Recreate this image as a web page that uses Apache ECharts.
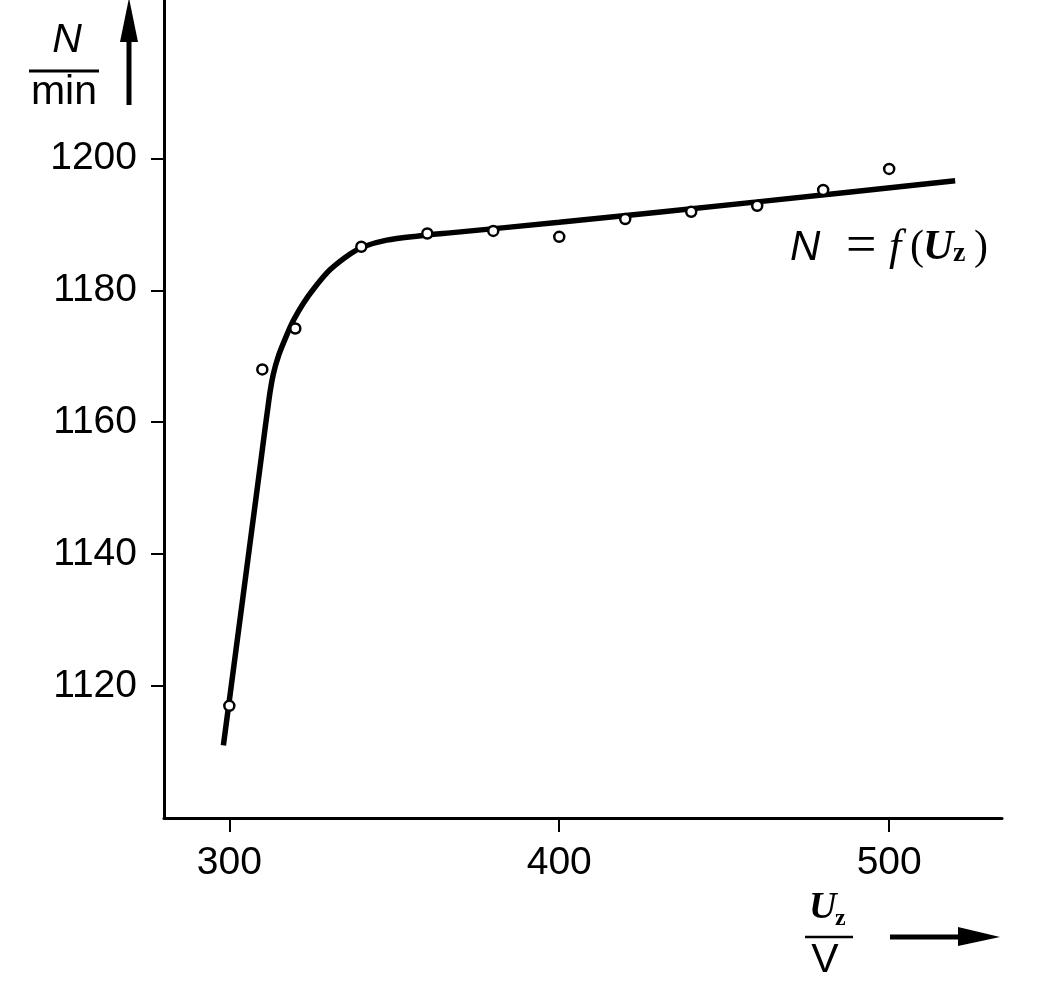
<!DOCTYPE html>
<html>
<head>
<meta charset="utf-8">
<script src="https://cdn.jsdelivr.net/npm/echarts@6/dist/echarts.min.js"></script>
<style>
html,body{margin:0;padding:0;background:#fff;}
#chart{width:1039px;height:981px;}
</style>
</head>
<body>
<div id="chart"></div>
<script>
// Fitted curve N = f(Uz)
const curveU = [298.2, 302.0, 306.0, 309.5, 312.0, 313.3, 315.0, 317.4, 319.4, 322.4, 326.0, 330.5, 336.6, 340.6, 347.7, 356.8, 366.9, 400, 460, 520];
const curveN = [1111.0, 1125.4, 1140.6, 1153.9, 1163.4, 1167.2, 1170.2, 1173.2, 1175.4, 1178.0, 1180.5, 1183.1, 1185.5, 1186.6, 1187.6, 1188.2, 1188.7, 1190.3, 1193.4, 1196.6];
// Measured points
const pointsU = [300, 310, 320, 340, 360, 380, 400, 420, 440, 460, 480, 500];
const pointsN = [1117.0, 1168.0, 1174.2, 1186.6, 1188.6, 1189.0, 1188.1, 1190.8, 1191.9, 1192.8, 1195.2, 1198.4];
// Tick labels
const xTicks = [300, 400, 500];
const yTicks = [1120, 1140, 1160, 1180, 1200];

const chart = echarts.init(document.getElementById('chart'), null, {renderer: 'canvas'});
const labelFont = 'Liberation Sans, Arial, sans-serif';
const serif = 'Liberation Serif, Times New Roman, serif';

const option = {
  animation: false,
  backgroundColor: '#ffffff',
  grid: {left: 164, right: 37, top: 0, bottom: 163, containLabel: false},
  xAxis: {
    type: 'value', min: 280.2, max: 534.2,
    splitLine: {show: false},
    axisLine: {onZero: false, lineStyle: {color: '#000', width: 3}},
    axisTick: {customValues: xTicks, length: 14, lineStyle: {color: '#000', width: 2}},
    axisLabel: {customValues: xTicks, margin: 26, fontSize: 39, fontFamily: labelFont, color: '#000',
      formatter: v => String(v)}
  },
  yAxis: {
    type: 'value', min: 1100, max: 1224,
    splitLine: {show: false},
    axisLine: {onZero: false, lineStyle: {color: '#000', width: 3}},
    axisTick: {customValues: yTicks, length: 13, lineStyle: {color: '#000', width: 2}},
    axisLabel: {customValues: yTicks, margin: 27, fontSize: 39, fontFamily: labelFont, color: '#000',
      formatter: v => String(v)}
  },
  series: [
    {
      type: 'line', z: 2,
      data: curveU.map((u, i) => [u, curveN[i]]),
      smooth: 0.25, showSymbol: false, symbol: 'none',
      lineStyle: {color: '#000', width: 5.5}
    },
    {
      type: 'scatter', z: 3,
      data: pointsU.map((u, i) => [u, pointsN[i]]),
      symbol: 'circle', symbolSize: 10,
      itemStyle: {color: '#fff', borderColor: '#000', borderWidth: 2.5, opacity: 1}
    }
  ],
  graphic: [
    // y-axis name: N / min with upward arrow
    {type: 'text', x: 67, y: 41, style: {text: 'N', font: 'italic 41px ' + labelFont, fill: '#000', align: 'center', verticalAlign: 'middle'}},
    {type: 'line', shape: {x1: 29, y1: 71, x2: 99, y2: 71}, style: {stroke: '#000', lineWidth: 3}},
    {type: 'text', x: 64, y: 93, style: {text: 'min', font: '41px ' + labelFont, fill: '#000', align: 'center', verticalAlign: 'middle'}},
    {type: 'line', shape: {x1: 129, y1: 105, x2: 129, y2: 30}, style: {stroke: '#000', lineWidth: 5}},
    {type: 'polygon', shape: {points: [[129, -2], [120, 42], [138, 42]]}, style: {fill: '#000'}},
    // x-axis name: Uz / V with right arrow
    {type: 'text', x: 809, y: 908, style: {text: 'U', font: 'italic bold 38px ' + serif, fill: '#000', align: 'left', verticalAlign: 'middle'}},
    {type: 'text', x: 835, y: 919, style: {text: 'z', font: 'bold 24px ' + serif, fill: '#000', align: 'left', verticalAlign: 'middle'}},
    {type: 'line', shape: {x1: 805, y1: 937, x2: 853, y2: 937}, style: {stroke: '#000', lineWidth: 2.5}},
    {type: 'text', x: 825, y: 961, style: {text: 'V', font: '41px ' + labelFont, fill: '#000', align: 'center', verticalAlign: 'middle'}},
    {type: 'line', shape: {x1: 890, y1: 937, x2: 962, y2: 937}, style: {stroke: '#000', lineWidth: 5}},
    {type: 'polygon', shape: {points: [[1000, 937], [958, 927], [958, 946]]}, style: {fill: '#000'}},
    // annotation N = f(Uz)
    {type: 'text', x: 790, y: 248, style: {text: 'N', font: 'italic 42px ' + labelFont, fill: '#000', align: 'left', verticalAlign: 'middle'}},
    {type: 'text', x: 846, y: 248, style: {text: '=', font: '54px ' + serif, fill: '#000', align: 'left', verticalAlign: 'middle'}},
    {type: 'text', x: 889, y: 248, style: {text: 'f', font: 'italic 44px ' + serif, fill: '#000', align: 'left', verticalAlign: 'middle'}},
    {type: 'text', x: 910, y: 248, style: {text: '(', font: '42px ' + serif, fill: '#000', align: 'left', verticalAlign: 'middle'}},
    {type: 'text', x: 923, y: 248, style: {text: 'U', font: 'italic bold 42px ' + serif, fill: '#000', align: 'left', verticalAlign: 'middle'}},
    {type: 'text', x: 953, y: 254, style: {text: 'z', font: 'bold 28px ' + serif, fill: '#000', align: 'left', verticalAlign: 'middle'}},
    {type: 'text', x: 974, y: 248, style: {text: ')', font: '42px ' + serif, fill: '#000', align: 'left', verticalAlign: 'middle'}}
  ]
};
chart.setOption(option);
</script>
</body>
</html>
